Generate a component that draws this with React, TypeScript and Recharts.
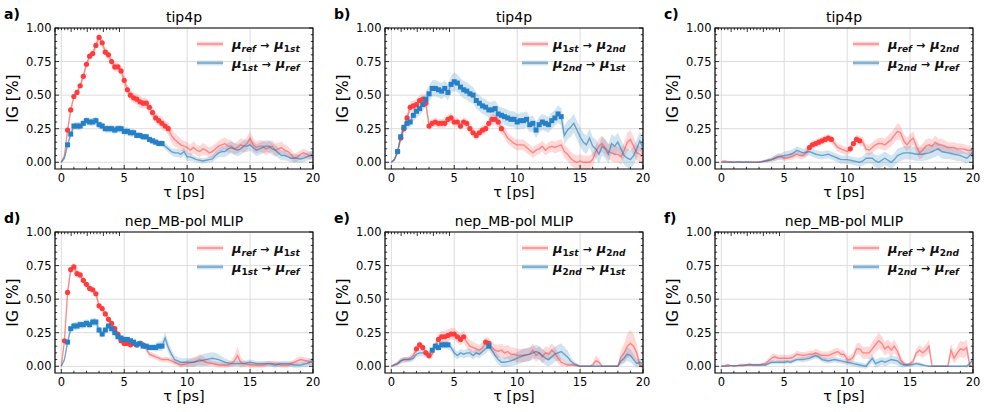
import React from 'react';
import { ComposedChart, Area, Line, XAxis, YAxis, CartesianGrid, ReferenceArea } from 'recharts';

// time grid, ps
const TAU = [
  0, 0.25, 0.5, 0.75, 1, 1.25, 1.5, 1.75, 2, 2.25, 2.5, 2.75, 3, 3.25, 3.5, 3.75,
  4, 4.25, 4.5, 4.75, 5, 5.25, 5.5, 5.75, 6, 6.25, 6.5, 6.75, 7, 7.25, 7.5, 7.75,
  8, 8.25, 8.5, 8.75, 9, 9.25, 9.5, 9.75, 10, 10.25, 10.5, 10.75, 11, 11.25, 11.5, 11.75,
  12, 12.25, 12.5, 12.75, 13, 13.25, 13.5, 13.75, 14, 14.25, 14.5, 14.75, 15, 15.25, 15.5, 15.75,
  16, 16.25, 16.5, 16.75, 17, 17.25, 17.5, 17.75, 18, 18.25, 18.5, 18.75, 19, 19.25, 19.5, 19.75,
  20,
];

const X_MAJOR = [0, 5, 10, 15, 20];
const X_MINOR = [0, 1, 2, 3, 4, 5, 6, 7, 8, 9, 10, 11, 12, 13, 14, 15, 16, 17, 18, 19, 20];
const Y_MAJOR = [0, 0.25, 0.5, 0.75, 1];
const Y_MINOR = [0, 0.05, 0.1, 0.15, 0.2, 0.25, 0.3, 0.35, 0.4, 0.45, 0.5, 0.55, 0.6, 0.65, 0.7, 0.75, 0.8, 0.85, 0.9, 0.95, 1];

// a) tip4p, ref -> 1st / 1st -> ref
const A_RED = [
  0, 0.05, 0.24, 0.39, 0.49, 0.52, 0.57, 0.64,
  0.73, 0.79, 0.81, 0.87, 0.93, 0.89, 0.82, 0.8,
  0.75, 0.71, 0.71, 0.68, 0.61, 0.54, 0.5, 0.48,
  0.47, 0.45, 0.44, 0.44, 0.41, 0.37, 0.33, 0.31,
  0.29, 0.27, 0.25, 0.2, 0.17, 0.15, 0.13, 0.12,
  0.11, 0.09, 0.11, 0.09, 0.08, 0.1, 0.09, 0.07,
  0.08, 0.1, 0.12, 0.13, 0.14, 0.12, 0.12, 0.1,
  0.11, 0.13, 0.12, 0.14, 0.18, 0.13, 0.11, 0.12,
  0.12, 0.1, 0.11, 0.12, 0.09, 0.1, 0.11, 0.09,
  0.08, 0.06, 0.03, 0.04, 0.06, 0.07, 0.06, 0.05,
  0.05,
];
const A_RED_ERR = [
  0.005, 0.01, 0.02, 0.02, 0.02, 0.02, 0.02, 0.025,
  0.025, 0.03, 0.03, 0.03, 0.03, 0.03, 0.035, 0.035,
  0.035, 0.035, 0.035, 0.035, 0.04, 0.04, 0.04, 0.04,
  0.04, 0.045, 0.04, 0.04, 0.04, 0.045, 0.04, 0.04,
  0.045, 0.04, 0.045, 0.05, 0.05, 0.045, 0.045, 0.04,
  0.04, 0.04, 0.045, 0.04, 0.04, 0.045, 0.04, 0.04,
  0.045, 0.04, 0.04, 0.045, 0.045, 0.05, 0.045, 0.04,
  0.045, 0.05, 0.05, 0.05, 0.05, 0.05, 0.045, 0.045,
  0.045, 0.05, 0.045, 0.045, 0.05, 0.045, 0.045, 0.04,
  0.04, 0.035, 0.035, 0.035, 0.03, 0.03, 0.03, 0.03,
  0.03,
];
const A_BLUE = [
  0, 0.03, 0.13, 0.21, 0.27, 0.27, 0.27, 0.29,
  0.31, 0.3, 0.3, 0.31, 0.28, 0.27, 0.25, 0.25,
  0.25, 0.24, 0.25, 0.25, 0.23, 0.23, 0.22, 0.22,
  0.2, 0.2, 0.19, 0.19, 0.17, 0.16, 0.15, 0.14,
  0.14, 0.12, 0.1, 0.08, 0.07, 0.07, 0.06, 0.08,
  0.04, 0.04, 0.03, 0.02, 0.015, 0.01, 0.015, 0.02,
  0.025, 0.05, 0.07, 0.08, 0.08, 0.1, 0.11, 0.1,
  0.09, 0.1, 0.12, 0.12, 0.13, 0.11, 0.09, 0.1,
  0.11, 0.12, 0.12, 0.1, 0.09, 0.07, 0.05, 0.05,
  0.04, 0.03, 0.03, 0.03, 0.025, 0.03, 0.04, 0.05,
  0.06,
];
const A_BLUE_ERR = [
  0.005, 0.01, 0.015, 0.02, 0.025, 0.03, 0.03, 0.03,
  0.03, 0.03, 0.03, 0.03, 0.03, 0.03, 0.03, 0.03,
  0.03, 0.03, 0.03, 0.03, 0.03, 0.03, 0.03, 0.03,
  0.025, 0.025, 0.025, 0.025, 0.025, 0.025, 0.025, 0.025,
  0.025, 0.025, 0.025, 0.025, 0.03, 0.03, 0.03, 0.03,
  0.03, 0.03, 0.025, 0.02, 0.02, 0.02, 0.02, 0.02,
  0.025, 0.03, 0.035, 0.04, 0.04, 0.045, 0.045, 0.045,
  0.045, 0.045, 0.045, 0.045, 0.045, 0.045, 0.045, 0.045,
  0.045, 0.045, 0.045, 0.045, 0.04, 0.04, 0.035, 0.035,
  0.03, 0.03, 0.03, 0.03, 0.03, 0.03, 0.03, 0.03,
  0.03,
];

// b) tip4p, 1st -> 2nd / 2nd -> 1st
const B_RED = [
  0, 0.02, 0.08, 0.18, 0.25, 0.33, 0.41, 0.42,
  0.43, 0.46, 0.47, 0.44, 0.27, 0.29, 0.3, 0.29,
  0.29, 0.29, 0.32, 0.33, 0.3, 0.3, 0.27, 0.3,
  0.29, 0.25, 0.22, 0.2, 0.22, 0.24, 0.25, 0.29,
  0.32, 0.32, 0.3, 0.25, 0.22, 0.18, 0.16, 0.14,
  0.13, 0.13, 0.13, 0.11, 0.09, 0.07, 0.09, 0.1,
  0.12, 0.09, 0.11, 0.12, 0.11, 0.12, 0.13, 0.08,
  0.06, 0.03, 0.01, 0, 0.01, 0, 0, 0,
  0.02, 0.08, 0.12, 0.14, 0.11, 0.08, 0.07, 0.06,
  0.06, 0.04, 0.09, 0.15, 0.17, 0.12, 0.07, 0.06,
  0.04,
];
const B_RED_ERR = [
  0.005, 0.01, 0.02, 0.03, 0.03, 0.035, 0.04, 0.04,
  0.04, 0.04, 0.04, 0.04, 0.035, 0.035, 0.035, 0.035,
  0.035, 0.035, 0.035, 0.035, 0.035, 0.035, 0.035, 0.035,
  0.035, 0.035, 0.035, 0.035, 0.035, 0.035, 0.035, 0.035,
  0.04, 0.04, 0.04, 0.04, 0.04, 0.04, 0.04, 0.04,
  0.04, 0.04, 0.04, 0.04, 0.04, 0.04, 0.04, 0.04,
  0.04, 0.04, 0.04, 0.04, 0.045, 0.045, 0.045, 0.05,
  0.05, 0.05, 0.05, 0.05, 0.05, 0.05, 0.05, 0.05,
  0.05, 0.05, 0.055, 0.06, 0.06, 0.06, 0.06, 0.06,
  0.06, 0.06, 0.06, 0.07, 0.07, 0.07, 0.06, 0.06,
  0.06,
];
const B_BLUE = [
  0, 0.02, 0.08, 0.19, 0.26, 0.29, 0.3, 0.35,
  0.38, 0.4, 0.43, 0.47, 0.51, 0.55, 0.55, 0.54,
  0.53, 0.55, 0.52, 0.58, 0.6, 0.59, 0.56, 0.54,
  0.53, 0.51, 0.5, 0.46, 0.44, 0.42, 0.41, 0.39,
  0.39, 0.4, 0.36, 0.35, 0.34, 0.33, 0.32, 0.32,
  0.3, 0.31, 0.31, 0.32, 0.28, 0.29, 0.24, 0.28,
  0.3, 0.29, 0.28, 0.31, 0.33, 0.36, 0.34, 0.2,
  0.24, 0.26, 0.29, 0.24, 0.19, 0.15, 0.13, 0.18,
  0.12, 0.1, 0.06, 0.12, 0.1, 0.06, 0.14, 0.12,
  0.15, 0.1, 0.05, 0.03, 0.02, 0.05, 0.1, 0.16,
  0.1,
];
const B_BLUE_ERR = [
  0.005, 0.01, 0.02, 0.03, 0.035, 0.04, 0.04, 0.045,
  0.05, 0.05, 0.05, 0.055, 0.06, 0.06, 0.06, 0.06,
  0.06, 0.06, 0.06, 0.065, 0.07, 0.065, 0.065, 0.065,
  0.065, 0.065, 0.06, 0.06, 0.06, 0.06, 0.06, 0.06,
  0.06, 0.06, 0.06, 0.06, 0.06, 0.06, 0.06, 0.06,
  0.06, 0.06, 0.06, 0.06, 0.06, 0.06, 0.06, 0.06,
  0.06, 0.06, 0.06, 0.06, 0.06, 0.065, 0.065, 0.07,
  0.07, 0.07, 0.07, 0.07, 0.07, 0.07, 0.07, 0.07,
  0.07, 0.07, 0.07, 0.07, 0.07, 0.07, 0.07, 0.07,
  0.07, 0.07, 0.07, 0.07, 0.07, 0.07, 0.07, 0.07,
  0.07,
];

// c) tip4p, ref -> 2nd / 2nd -> ref
const C_RED = [
  0.005, 0.01, 0.005, 0.005, 0, 0.005, 0.005, 0,
  0.005, 0, 0, 0, 0, 0.005, 0.01, 0.015,
  0.02, 0.03, 0.04, 0.04, 0.03, 0.035, 0.04, 0.05,
  0.06, 0.05, 0.05, 0.07, 0.11, 0.13, 0.14, 0.15,
  0.16, 0.17, 0.18, 0.17, 0.14, 0.11, 0.1, 0.09,
  0.08, 0.1, 0.14, 0.17, 0.16, 0.15, 0.1, 0.09,
  0.11, 0.13, 0.14, 0.14, 0.13, 0.15, 0.17, 0.2,
  0.23, 0.22, 0.16, 0.13, 0.16, 0.18, 0.12, 0.07,
  0.09, 0.12, 0.13, 0.12, 0.15, 0.13, 0.13, 0.12,
  0.11, 0.11, 0.11, 0.1, 0.1, 0.1, 0.09, 0.09,
  0.09,
];
const C_RED_ERR = [
  0.005, 0.005, 0.005, 0.005, 0.005, 0.005, 0.005, 0.005,
  0.005, 0.005, 0.005, 0.005, 0.005, 0.01, 0.01, 0.015,
  0.015, 0.02, 0.02, 0.02, 0.02, 0.02, 0.025, 0.025,
  0.025, 0.025, 0.025, 0.03, 0.03, 0.03, 0.03, 0.03,
  0.03, 0.03, 0.03, 0.03, 0.03, 0.03, 0.03, 0.03,
  0.03, 0.03, 0.035, 0.035, 0.035, 0.035, 0.035, 0.04,
  0.04, 0.04, 0.04, 0.045, 0.045, 0.05, 0.05, 0.055,
  0.06, 0.055, 0.05, 0.05, 0.05, 0.05, 0.05, 0.05,
  0.05, 0.05, 0.05, 0.05, 0.05, 0.045, 0.045, 0.045,
  0.04, 0.04, 0.04, 0.04, 0.04, 0.035, 0.035, 0.035,
  0.035,
];
const C_BLUE = [
  0, 0, 0, 0, 0, 0, 0, 0,
  0, 0, 0, 0, 0, 0.005, 0.01, 0.015,
  0.02, 0.03, 0.04, 0.045, 0.05, 0.055, 0.06, 0.07,
  0.09, 0.08, 0.07, 0.075, 0.08, 0.07, 0.06, 0.055,
  0.05, 0.055, 0.06, 0.05, 0.04, 0.03, 0.02, 0.02,
  0.02, 0.015, 0.01, 0.005, 0, 0.01, 0.03, 0.03,
  0.03, 0.01, 0, 0.015, 0.03, 0.015, 0, 0.02,
  0.05, 0.06, 0.07, 0.07, 0.07, 0.065, 0.06, 0.06,
  0.06, 0.065, 0.07, 0.08, 0.09, 0.1, 0.08, 0.075,
  0.07, 0.065, 0.06, 0.055, 0.05, 0.04, 0.03, 0.05,
  0.08,
];
const C_BLUE_ERR = [
  0.003, 0.003, 0.003, 0.003, 0.003, 0.003, 0.003, 0.003,
  0.003, 0.003, 0.003, 0.003, 0.005, 0.008, 0.01, 0.012,
  0.015, 0.02, 0.025, 0.025, 0.03, 0.03, 0.03, 0.03,
  0.03, 0.03, 0.03, 0.03, 0.03, 0.03, 0.03, 0.03,
  0.03, 0.03, 0.03, 0.03, 0.03, 0.03, 0.03, 0.03,
  0.03, 0.03, 0.03, 0.03, 0.035, 0.035, 0.04, 0.04,
  0.045, 0.045, 0.05, 0.05, 0.05, 0.05, 0.05, 0.05,
  0.05, 0.05, 0.05, 0.05, 0.05, 0.05, 0.05, 0.05,
  0.05, 0.05, 0.05, 0.05, 0.05, 0.05, 0.05, 0.05,
  0.045, 0.045, 0.045, 0.045, 0.04, 0.04, 0.04, 0.04,
  0.04,
];

// d) nep_MB-pol, ref -> 1st / 1st -> ref
const D_RED = [
  0, 0.19, 0.55, 0.72, 0.74, 0.69, 0.68, 0.64,
  0.61, 0.58, 0.57, 0.54, 0.45, 0.43, 0.39, 0.35,
  0.32, 0.28, 0.24, 0.19, 0.17, 0.17, 0.16, 0.17,
  0.16, 0.17, 0.16, 0.13, 0.09, 0.08, 0.07, 0.06,
  0.05, 0.05, 0.05, 0.04, 0.03, 0.02, 0.01, 0.015,
  0.02, 0.025, 0.03, 0.04, 0.05, 0.04, 0.03, 0.025,
  0.02, 0.015, 0.01, 0.01, 0.01, 0.01, 0.02, 0.04,
  0.08, 0.03, 0.02, 0.015, 0.01, 0.01, 0.01, 0.01,
  0.01, 0.015, 0.02, 0.02, 0.02, 0.015, 0.01, 0.01,
  0.01, 0.02, 0.03, 0.04, 0.05, 0.045, 0.04, 0.035,
  0.03,
];
const D_RED_ERR = [
  0.005, 0.02, 0.03, 0.03, 0.03, 0.03, 0.03, 0.03,
  0.025, 0.025, 0.025, 0.025, 0.025, 0.025, 0.025, 0.025,
  0.02, 0.02, 0.02, 0.02, 0.02, 0.02, 0.02, 0.02,
  0.02, 0.02, 0.02, 0.02, 0.02, 0.02, 0.02, 0.02,
  0.02, 0.02, 0.02, 0.02, 0.02, 0.02, 0.02, 0.02,
  0.025, 0.03, 0.03, 0.035, 0.04, 0.035, 0.03, 0.025,
  0.02, 0.02, 0.02, 0.02, 0.02, 0.02, 0.025, 0.04,
  0.07, 0.04, 0.025, 0.02, 0.02, 0.02, 0.02, 0.02,
  0.02, 0.02, 0.02, 0.02, 0.02, 0.02, 0.02, 0.02,
  0.02, 0.02, 0.02, 0.025, 0.025, 0.025, 0.025, 0.025,
  0.025,
];
const D_BLUE = [
  0, 0.05, 0.18, 0.28, 0.3, 0.3, 0.31, 0.31,
  0.32, 0.31, 0.33, 0.33, 0.27, 0.24, 0.27, 0.3,
  0.28, 0.25, 0.22, 0.21, 0.2, 0.2, 0.19, 0.18,
  0.16, 0.17, 0.15, 0.15, 0.14, 0.14, 0.14, 0.15,
  0.15, 0.21, 0.14, 0.09, 0.05, 0.04, 0.03, 0.03,
  0.03, 0.03, 0.03, 0.035, 0.04, 0.045, 0.05, 0.055,
  0.06, 0.055, 0.05, 0.04, 0.03, 0.025, 0.02, 0.02,
  0.02, 0.02, 0.02, 0.025, 0.03, 0.025, 0.02, 0.02,
  0.02, 0.02, 0.02, 0.015, 0.01, 0.015, 0.02, 0.02,
  0.02, 0.015, 0.01, 0.01, 0.01, 0.015, 0.02, 0.03,
  0.04,
];
const D_BLUE_ERR = [
  0.005, 0.01, 0.02, 0.025, 0.03, 0.03, 0.03, 0.03,
  0.03, 0.03, 0.03, 0.03, 0.03, 0.03, 0.03, 0.03,
  0.025, 0.025, 0.025, 0.025, 0.02, 0.02, 0.02, 0.02,
  0.02, 0.02, 0.02, 0.02, 0.025, 0.025, 0.03, 0.035,
  0.04, 0.045, 0.04, 0.035, 0.03, 0.03, 0.03, 0.03,
  0.03, 0.03, 0.035, 0.035, 0.04, 0.045, 0.045, 0.045,
  0.045, 0.045, 0.04, 0.035, 0.03, 0.025, 0.02, 0.02,
  0.02, 0.02, 0.02, 0.02, 0.02, 0.02, 0.02, 0.02,
  0.02, 0.02, 0.02, 0.02, 0.02, 0.02, 0.02, 0.02,
  0.02, 0.02, 0.02, 0.02, 0.02, 0.02, 0.025, 0.025,
  0.025,
];

// e) nep_MB-pol, 1st -> 2nd / 2nd -> 1st
const E_RED = [
  0, 0.01, 0.02, 0.04, 0.05, 0.05, 0.06, 0.08,
  0.13, 0.16, 0.14, 0.1, 0.08, 0.09, 0.15, 0.2,
  0.22, 0.22, 0.23, 0.24, 0.24, 0.22, 0.2, 0.22,
  0.18, 0.15, 0.14, 0.13, 0.12, 0.14, 0.18, 0.17,
  0.14, 0.12, 0.11, 0.12, 0.1, 0.11, 0.09, 0.09,
  0.08, 0.08, 0.08, 0.085, 0.09, 0.12, 0.08, 0.1,
  0.07, 0.1, 0.09, 0.12, 0.1, 0.06, 0.03, 0.02,
  0.01, 0.01, 0.01, 0.005, 0, 0, 0, 0,
  0.01, 0.04, 0.03, 0, 0, 0, 0, 0,
  0, 0.07, 0.1, 0.15, 0.17, 0.15, 0.1, 0.01,
  0,
];
const E_RED_ERR = [
  0.005, 0.01, 0.015, 0.02, 0.02, 0.02, 0.02, 0.025,
  0.03, 0.03, 0.03, 0.03, 0.03, 0.03, 0.035, 0.04,
  0.04, 0.045, 0.045, 0.045, 0.045, 0.045, 0.045, 0.045,
  0.045, 0.045, 0.04, 0.04, 0.04, 0.04, 0.04, 0.04,
  0.04, 0.045, 0.05, 0.05, 0.05, 0.05, 0.05, 0.05,
  0.05, 0.05, 0.05, 0.05, 0.05, 0.05, 0.05, 0.05,
  0.05, 0.05, 0.05, 0.05, 0.045, 0.04, 0.03, 0.02,
  0.015, 0.01, 0.01, 0.01, 0.005, 0.005, 0.005, 0.005,
  0.01, 0.04, 0.03, 0.005, 0.005, 0.005, 0.005, 0.005,
  0.005, 0.05, 0.07, 0.09, 0.1, 0.09, 0.07, 0.02,
  0.01,
];
const E_BLUE = [
  0, 0.01, 0.02, 0.04, 0.05, 0.05, 0.05, 0.06,
  0.09, 0.1, 0.1, 0.09, 0.08, 0.12, 0.15, 0.14,
  0.16, 0.16, 0.16, 0.14, 0.1, 0.08, 0.1, 0.09,
  0.1, 0.1, 0.08, 0.1, 0.09, 0.11, 0.13, 0.15,
  0.12, 0.08, 0.05, 0.03, 0.03, 0.035, 0.04, 0.05,
  0.06, 0.07, 0.08, 0.085, 0.09, 0.1, 0.11, 0.1,
  0.08, 0.06, 0.05, 0.07, 0.09, 0.1, 0.11, 0.09,
  0.07, 0.04, 0.02, 0.01, 0, 0, 0, 0,
  0, 0, 0, 0, 0, 0, 0, 0,
  0, 0.04, 0.06, 0.09, 0.08, 0.05, 0.02, 0.03,
  0.02,
];
const E_BLUE_ERR = [
  0.005, 0.01, 0.015, 0.02, 0.02, 0.02, 0.02, 0.02,
  0.025, 0.025, 0.025, 0.025, 0.025, 0.03, 0.03, 0.03,
  0.03, 0.03, 0.03, 0.03, 0.03, 0.03, 0.03, 0.03,
  0.03, 0.03, 0.03, 0.03, 0.03, 0.03, 0.035, 0.035,
  0.035, 0.035, 0.035, 0.035, 0.035, 0.04, 0.04, 0.045,
  0.045, 0.05, 0.05, 0.05, 0.05, 0.05, 0.05, 0.05,
  0.05, 0.05, 0.05, 0.055, 0.055, 0.06, 0.06, 0.055,
  0.05, 0.03, 0.02, 0.01, 0.005, 0.005, 0.005, 0.005,
  0.005, 0.005, 0.005, 0.005, 0.005, 0.005, 0.005, 0.005,
  0.005, 0.03, 0.04, 0.05, 0.05, 0.04, 0.03, 0.03,
  0.03,
];

// f) nep_MB-pol, ref -> 2nd / 2nd -> ref
const F_RED = [
  0, 0.005, 0.01, 0.005, 0, 0.005, 0.01, 0.01,
  0.01, 0.015, 0.01, 0.01, 0.01, 0.015, 0.02, 0.04,
  0.06, 0.07, 0.06, 0.06, 0.06, 0.06, 0.06, 0.07,
  0.09, 0.085, 0.08, 0.085, 0.09, 0.09, 0.1, 0.09,
  0.08, 0.08, 0.08, 0.09, 0.1, 0.11, 0.09, 0.09,
  0.05, 0.05, 0.07, 0.13, 0.13, 0.1, 0.1, 0.1,
  0.13, 0.16, 0.19, 0.17, 0.13, 0.15, 0.12, 0.15,
  0.11, 0.05, 0.02, 0.01, 0.02, 0.04, 0.1, 0.12,
  0.1, 0.12, 0.15, 0, 0, 0, 0, 0,
  0, 0.12, 0.06, 0.1, 0.13, 0.12, 0.14, 0,
  0,
];
const F_RED_ERR = [
  0.005, 0.005, 0.01, 0.005, 0.005, 0.005, 0.01, 0.01,
  0.01, 0.01, 0.01, 0.01, 0.01, 0.01, 0.015, 0.02,
  0.025, 0.025, 0.025, 0.025, 0.025, 0.025, 0.025, 0.025,
  0.025, 0.025, 0.025, 0.025, 0.025, 0.025, 0.03, 0.03,
  0.03, 0.03, 0.03, 0.03, 0.03, 0.03, 0.03, 0.03,
  0.03, 0.03, 0.035, 0.04, 0.045, 0.045, 0.045, 0.045,
  0.05, 0.055, 0.06, 0.055, 0.05, 0.05, 0.05, 0.05,
  0.045, 0.03, 0.02, 0.01, 0.01, 0.02, 0.03, 0.04,
  0.04, 0.04, 0.05, 0.005, 0.005, 0.005, 0.005, 0.005,
  0.005, 0.05, 0.04, 0.05, 0.06, 0.06, 0.06, 0.005,
  0.005,
];
const F_BLUE = [
  0, 0, 0, 0.005, 0.005, 0.005, 0.005, 0.005,
  0.01, 0.01, 0.01, 0.01, 0.01, 0.01, 0.01, 0.02,
  0.03, 0.03, 0.03, 0.03, 0.03, 0.035, 0.03, 0.04,
  0.05, 0.05, 0.05, 0.055, 0.06, 0.07, 0.08, 0.07,
  0.05, 0.045, 0.04, 0.045, 0.05, 0.045, 0.04, 0.035,
  0.03, 0.025, 0.02, 0.015, 0.01, 0.005, 0, 0.03,
  0.06, 0.02, 0.03, 0.04, 0.03, 0.04, 0.05, 0.045,
  0.04, 0.02, 0.01, 0.01, 0.01, 0.015, 0.02, 0.015,
  0.01, 0.005, 0, 0, 0, 0, 0, 0,
  0, 0, 0, 0, 0, 0, 0, 0.02,
  0.05,
];
const F_BLUE_ERR = [
  0.003, 0.003, 0.003, 0.003, 0.005, 0.005, 0.005, 0.005,
  0.005, 0.005, 0.005, 0.005, 0.005, 0.008, 0.01, 0.012,
  0.015, 0.015, 0.015, 0.015, 0.015, 0.015, 0.015, 0.015,
  0.015, 0.015, 0.02, 0.02, 0.02, 0.02, 0.02, 0.02,
  0.02, 0.02, 0.02, 0.02, 0.02, 0.02, 0.02, 0.02,
  0.02, 0.02, 0.02, 0.02, 0.02, 0.02, 0.02, 0.025,
  0.03, 0.03, 0.03, 0.03, 0.03, 0.03, 0.03, 0.03,
  0.03, 0.025, 0.02, 0.015, 0.015, 0.015, 0.015, 0.015,
  0.01, 0.005, 0.005, 0.005, 0.005, 0.005, 0.005, 0.005,
  0.005, 0.005, 0.005, 0.005, 0.005, 0.005, 0.01, 0.02,
  0.03,
];

const PANELS = [
  { label: 'a)', title: 'tip4p', red: A_RED, redErr: A_RED_ERR, blue: A_BLUE, blueErr: A_BLUE_ERR,
    redMarks: [[0.5, 8.5]], blueMarks: [[0.5, 8]], names: [['ref', '1st'], ['1st', 'ref']] },
  { label: 'b)', title: 'tip4p', red: B_RED, redErr: B_RED_ERR, blue: B_BLUE, blueErr: B_BLUE_ERR,
    redMarks: [[0.5, 8.75]], blueMarks: [[0.5, 13.5]], names: [['1st', '2nd'], ['2nd', '1st']] },
  { label: 'c)', title: 'tip4p', red: C_RED, redErr: C_RED_ERR, blue: C_BLUE, blueErr: C_BLUE_ERR,
    redMarks: [[7, 8.75], [10.25, 11]], blueMarks: [], names: [['ref', '2nd'], ['2nd', 'ref']] },
  { label: 'd)', title: 'nep_MB-pol MLIP', red: D_RED, redErr: D_RED_ERR, blue: D_BLUE, blueErr: D_BLUE_ERR,
    redMarks: [[0.25, 6.5]], blueMarks: [[0.5, 8]], names: [['ref', '1st'], ['1st', 'ref']] },
  { label: 'e)', title: 'nep_MB-pol MLIP', red: E_RED, redErr: E_RED_ERR, blue: E_BLUE, blueErr: E_BLUE_ERR,
    redMarks: [[2, 3], [3.75, 5.75], [7.5, 7.75]], blueMarks: [[3.25, 4.5], [7.75, 7.75]], names: [['1st', '2nd'], ['2nd', '1st']] },
  { label: 'f)', title: 'nep_MB-pol MLIP', red: F_RED, redErr: F_RED_ERR, blue: F_BLUE, blueErr: F_BLUE_ERR,
    redMarks: [], blueMarks: [], names: [['ref', '2nd'], ['2nd', 'ref']] },
];

// legend handle / text x per panel (layout only)
const LEGEND_X = [[197, 232], [192, 223], [193, 228], [197, 232], [192, 223], [193, 228]];

const W = 330;
const H = 204;
const MARGIN = { top: 18, right: 7, bottom: 5, left: 5 };
// plot box edges inside each panel (margin + axis sizes)
const PLOT = { left: 55, top: 28, right: 313, bottom: 169 };
const X_DOMAIN = [-0.5, 20];
const Y_DOMAIN = [-0.05, 1];
const FONT = 'DejaVu Sans';

const RED_LINE = '#ff4d4d';
const RED_DOT = '#ff3b3b';
const BLUE_LINE = '#1f77b4';
const BLUE_DOT = '#2580c8';

const inMarks = (t, ranges) => ranges.some(([a, b]) => t >= a - 1e-6 && t <= b + 1e-6);

function buildRows(p) {
  return TAU.map((t, i) => ({
    t,
    r: p.red[i],
    rb: [p.red[i] - p.redErr[i], p.red[i] + p.redErr[i]],
    rm: inMarks(t, p.redMarks) ? p.red[i] : null,
    b: p.blue[i],
    bb: [p.blue[i] - p.blueErr[i], p.blue[i] + p.blueErr[i]],
    bm: inMarks(t, p.blueMarks) ? p.blue[i] : null,
  }));
}

// grid lines only at major ticks, placed with the axis scale
const gridX = ({ xAxis }) => {
  if (xAxis && typeof xAxis.scale === 'function') return X_MAJOR.map((v) => xAxis.scale(v));
  const w = PLOT.right - PLOT.left;
  return X_MAJOR.map((v) => PLOT.left + ((v - X_DOMAIN[0]) / (X_DOMAIN[1] - X_DOMAIN[0])) * w);
};
const gridY = ({ yAxis }) => {
  if (yAxis && typeof yAxis.scale === 'function') return Y_MAJOR.map((v) => yAxis.scale(v));
  const h = PLOT.bottom - PLOT.top;
  return Y_MAJOR.map((v) => PLOT.bottom - ((v - Y_DOMAIN[0]) / (Y_DOMAIN[1] - Y_DOMAIN[0])) * h);
};

const redDot = (props) => {
  const { cx, cy, value, index } = props;
  if (value == null || cy == null || isNaN(cy)) return <g key={`rd${index}`} />;
  return <circle key={`rd${index}`} cx={cx} cy={cy} r={2.6} fill={RED_DOT} />;
};
const blueDot = (props) => {
  const { cx, cy, value, index } = props;
  if (value == null || cy == null || isNaN(cy)) return <g key={`bd${index}`} />;
  return <rect key={`bd${index}`} x={cx - 2.5} y={cy - 2.5} width={5} height={5} fill={BLUE_DOT} />;
};

// inward ticks (along-axis position from the axis scale), labels only on majors
const bottomTick = ({ x, payload }) => {
  const major = X_MAJOR.includes(payload.value);
  const y = PLOT.bottom;
  return (
    <g>
      <line x1={x} x2={x} y1={y} y2={y - (major ? 4 : 2.2)} stroke="#000" strokeWidth={0.8} />
      {major && (
        <text x={x} y={y + 13} textAnchor="middle" fontSize={11.5} fontFamily={FONT} fill="#000">
          {payload.value}
        </text>
      )}
    </g>
  );
};
const topTick = ({ x, payload }) => {
  const major = X_MAJOR.includes(payload.value);
  const y = PLOT.top;
  return <line x1={x} x2={x} y1={y} y2={y + (major ? 4 : 2.2)} stroke="#000" strokeWidth={0.8} />;
};
const isMajorY = (v) => Y_MAJOR.some((m) => Math.abs(m - v) < 1e-6);
const leftTick = ({ y, payload }) => {
  const major = isMajorY(payload.value);
  const x = PLOT.left;
  return (
    <g>
      <line x1={x} x2={x + (major ? 4 : 2.2)} y1={y} y2={y} stroke="#000" strokeWidth={0.8} />
      {major && (
        <text x={x - 3.5} y={y + 4} textAnchor="end" fontSize={11.5} fontFamily={FONT} fill="#000">
          {payload.value.toFixed(2)}
        </text>
      )}
    </g>
  );
};
const rightTick = ({ y, payload }) => {
  const major = isMajorY(payload.value);
  const x = PLOT.right;
  return <line x1={x} x2={x - (major ? 4 : 2.2)} y1={y} y2={y} stroke="#000" strokeWidth={0.8} />;
};

function Sub({ s }) {
  const m = s.match(/^(\d?)(.*)$/);
  return (
    <>
      {m[1] && <tspan fontStyle="normal">{m[1]}</tspan>}
      <tspan fontStyle="italic">{m[2]}</tspan>
    </>
  );
}

function MuText({ x, y, from, to }) {
  return (
    <text x={x} y={y} fontFamily={FONT} fill="#111">
      <tspan fontSize={13} fontWeight="bold" fontStyle="italic">μ</tspan>
      <tspan fontSize={9} fontWeight="bold" dy={3}><Sub s={from} /></tspan>
      <tspan fontSize={11} fontWeight="bold" dy={-3} dx={4}>→</tspan>
      <tspan fontSize={13} fontWeight="bold" fontStyle="italic" dx={5}>μ</tspan>
      <tspan fontSize={9} fontWeight="bold" dy={3}><Sub s={to} /></tspan>
    </text>
  );
}

function Panel({ p, idx }) {
  const rows = buildRows(p);
  const left = (idx % 3) * W;
  const top = Math.floor(idx / 3) * H;
  const [lx, tx] = LEGEND_X[idx];
  const plotCx = (PLOT.left + PLOT.right) / 2;
  const plotCy = (PLOT.top + PLOT.bottom) / 2;
  return (
    <div style={{ position: 'absolute', left, top, width: W, height: H }}>
      <ComposedChart width={W} height={H} data={rows} margin={MARGIN}>
        <CartesianGrid xAxisId="x" yAxisId="y" stroke="#dcdcdc" strokeWidth={1}
          verticalCoordinatesGenerator={gridX} horizontalCoordinatesGenerator={gridY} />
        <Area xAxisId="x" yAxisId="y" dataKey="rb" stroke="none" fill={RED_LINE} fillOpacity={0.22}
          isAnimationActive={false} activeDot={false} />
        <Line xAxisId="x" yAxisId="y" dataKey="r" stroke={RED_LINE} strokeOpacity={0.6} strokeWidth={1.4}
          dot={false} activeDot={false} isAnimationActive={false} />
        <Line xAxisId="x" yAxisId="y" dataKey="rm" stroke="none" dot={redDot} activeDot={false}
          isAnimationActive={false} />
        <Area xAxisId="x" yAxisId="y" dataKey="bb" stroke="none" fill={BLUE_LINE} fillOpacity={0.2}
          isAnimationActive={false} activeDot={false} />
        <Line xAxisId="x" yAxisId="y" dataKey="b" stroke={BLUE_LINE} strokeOpacity={0.6} strokeWidth={1.4}
          dot={false} activeDot={false} isAnimationActive={false} />
        <Line xAxisId="x" yAxisId="y" dataKey="bm" stroke="none" dot={blueDot} activeDot={false}
          isAnimationActive={false} />

        <XAxis xAxisId="x" dataKey="t" type="number" domain={X_DOMAIN} ticks={X_MINOR} interval={0}
          allowDataOverflow height={30} tickSize={0} tickMargin={0} tickLine={false}
          axisLine={false} tick={bottomTick} />
        <XAxis xAxisId="xt" orientation="top" type="number" domain={X_DOMAIN} ticks={X_MINOR} interval={0}
          allowDataOverflow height={10} tickSize={0} tickMargin={0} tickLine={false}
          axisLine={false} tick={topTick} />
        <YAxis yAxisId="y" type="number" domain={Y_DOMAIN} ticks={Y_MINOR} interval={0}
          allowDataOverflow width={50} tickSize={0} tickMargin={0} tickLine={false}
          axisLine={false} tick={leftTick} />
        <YAxis yAxisId="yr" orientation="right" type="number" domain={Y_DOMAIN} ticks={Y_MINOR} interval={0}
          allowDataOverflow width={10} tickSize={0} tickMargin={0} tickLine={false}
          axisLine={false} tick={rightTick} />

        <ReferenceArea xAxisId="x" yAxisId="y" x1={X_DOMAIN[0]} x2={X_DOMAIN[1]} y1={Y_DOMAIN[0]} y2={Y_DOMAIN[1]}
          fill="none" fillOpacity={0} stroke="#000" strokeWidth={1.2} ifOverflow="visible" />
      </ComposedChart>

      <svg width={W} height={H} style={{ position: 'absolute', left: 0, top: 0, pointerEvents: 'none' }}>
        <text x={4} y={19} fontFamily={FONT} fontSize={14} fontWeight="bold" fill="#000">{p.label}</text>
        <text x={plotCx} y={21.5} fontFamily={FONT} fontSize={14} textAnchor="middle" fill="#000">{p.title}</text>
        <text transform={`translate(13,${plotCy}) rotate(-90)`} fontFamily={FONT} fontSize={15.5}
          textAnchor="middle" dominantBaseline="central" fill="#000">IG [%]</text>
        <text x={plotCx} y={197} fontFamily={FONT} fontSize={14.5} textAnchor="middle" fill="#000">τ [ps]</text>

        <rect x={lx} y={41.5} width={26} height={5} fill={RED_LINE} fillOpacity={0.2} />
        <line x1={lx} x2={lx + 26} y1={44} y2={44} stroke={RED_LINE} strokeOpacity={0.6} strokeWidth={1.5} />
        <MuText x={tx} y={48.5} from={p.names[0][0]} to={p.names[0][1]} />
        <rect x={lx} y={60.5} width={26} height={5} fill={BLUE_LINE} fillOpacity={0.2} />
        <line x1={lx} x2={lx + 26} y1={63} y2={63} stroke={BLUE_LINE} strokeOpacity={0.6} strokeWidth={1.5} />
        <MuText x={tx} y={67.5} from={p.names[1][0]} to={p.names[1][1]} />
      </svg>
    </div>
  );
}

export default function App() {
  return (
    <div style={{ position: 'absolute', left: 0, top: 0, width: 986, height: 412, background: '#fff' }}>
      {PANELS.map((p, i) => (
        <Panel key={i} p={p} idx={i} />
      ))}
    </div>
  );
}
